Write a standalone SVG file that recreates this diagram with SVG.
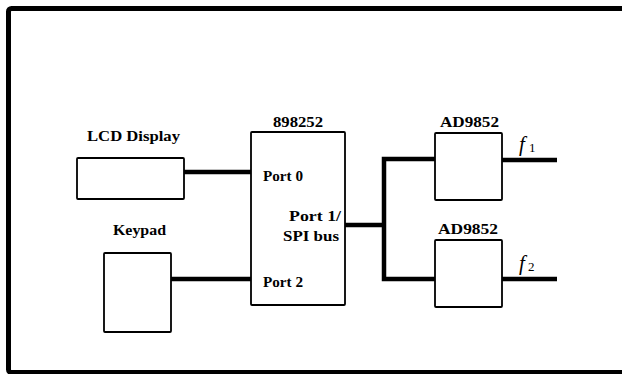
<svg xmlns="http://www.w3.org/2000/svg" width="622" height="374" viewBox="0 0 622 374">
<style>
.box{fill:#fff;stroke:#000;stroke-width:1.8}
.wire{fill:none;stroke:#000;stroke-width:4.5;stroke-linecap:butt}
.lbl{font-family:"Liberation Serif","Times New Roman",serif;font-weight:bold;font-size:15px;fill:#000}
.fv{font-family:"Liberation Serif","Times New Roman",serif;font-style:italic;font-size:21px;fill:#000}
.sub{font-family:"Liberation Serif","Times New Roman",serif;font-size:13px;fill:#000}
</style>
<rect x="0" y="0" width="622" height="374" fill="#fff"/>
<rect x="8.5" y="8.5" width="640" height="364" rx="3" fill="none" stroke="#000" stroke-width="5"/>
<g id="connectors">
<line class="wire" x1="184" y1="172" x2="251" y2="172"/>
<line class="wire" x1="171" y1="279" x2="251" y2="279"/>
<line class="wire" x1="345" y1="225" x2="384" y2="225"/>
<polyline class="wire" points="435,159 384,159 384,279 435,279"/>
<line class="wire" x1="502" y1="160" x2="557" y2="160"/>
<line class="wire" x1="502" y1="279" x2="557" y2="279"/>
</g>
<g id="lcd">
<rect class="box" x="77" y="158" width="107" height="41" rx="1"/>
<text class="lbl" x="87" y="141" textLength="93" lengthAdjust="spacingAndGlyphs">LCD Display</text>
</g>
<g id="keypad">
<rect class="box" x="104" y="253" width="67" height="79" rx="1"/>
<text class="lbl" x="113" y="235" textLength="53" lengthAdjust="spacingAndGlyphs">Keypad</text>
</g>
<g id="mcu">
<rect class="box" x="251" y="132" width="94" height="173" rx="1"/>
<text class="lbl" x="273" y="127" textLength="50" lengthAdjust="spacingAndGlyphs">898252</text>
<text class="lbl" x="263" y="181" textLength="40" lengthAdjust="spacingAndGlyphs">Port 0</text>
<text class="lbl" x="289" y="221" textLength="52" lengthAdjust="spacingAndGlyphs">Port 1/</text>
<text class="lbl" x="283" y="241" textLength="56" lengthAdjust="spacingAndGlyphs">SPI bus</text>
<text class="lbl" x="263" y="287" textLength="40" lengthAdjust="spacingAndGlyphs">Port 2</text>
</g>
<g id="dds1">
<rect class="box" x="435" y="133" width="67" height="67" rx="1"/>
<text class="lbl" x="440" y="127" textLength="59" lengthAdjust="spacingAndGlyphs">AD9852</text>
</g>
<g id="dds2">
<rect class="box" x="435" y="240" width="67" height="67" rx="1"/>
<text class="lbl" x="438" y="234" textLength="60" lengthAdjust="spacingAndGlyphs">AD9852</text>
</g>
<g id="out1">
<text class="fv" x="519" y="151">f</text>
<text class="sub" x="529" y="152">1</text>
</g>
<g id="out2">
<text class="fv" x="519" y="270">f</text>
<text class="sub" x="528" y="271">2</text>
</g>
</svg>
